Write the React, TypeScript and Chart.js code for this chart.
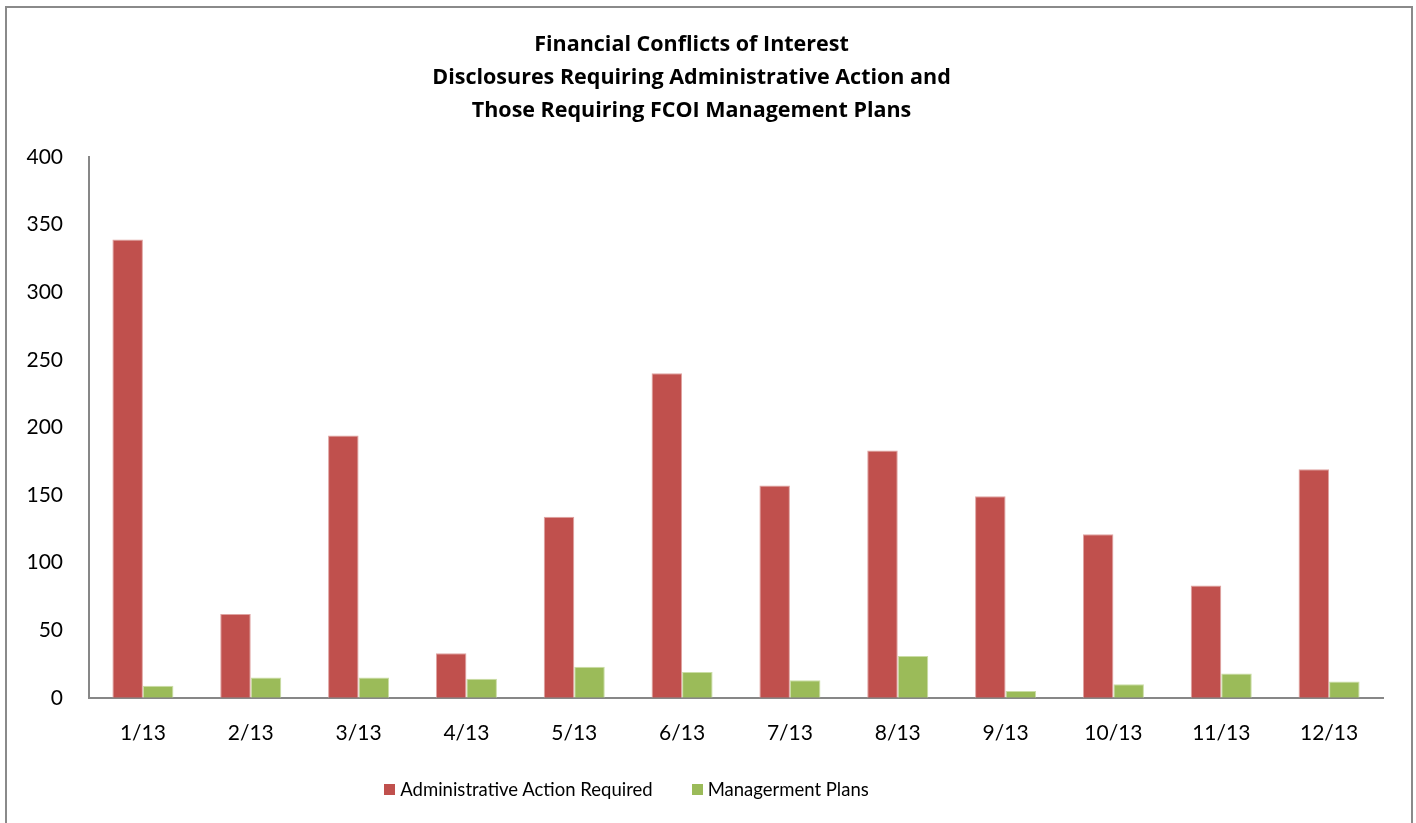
import React, { useEffect, useRef } from "react";
import { Chart, registerables } from "chart.js";

Chart.register(...registerables);

const categories = ["1/13", "2/13", "3/13", "4/13", "5/13", "6/13", "7/13", "8/13", "9/13", "10/13", "11/13", "12/13"];
const adminAction = [339, 62, 194, 33, 134, 240, 157, 183, 149, 121, 83, 169];
const mgmtPlans = [9, 15, 15, 14, 23, 19, 13, 31, 5, 10, 18, 12];
const seriesNames = ["Administrative Action Required", "Managerment Plans"];
const seriesColors = ["#C0504D", "#9BBB59"];
const seriesEdges = ["#DFA3A1", "#CADDA5"];
const titleLines = [
  "Financial Conflicts of Interest",
  "Disclosures Requiring Administrative Action and",
  "Those Requiring FCOI Management Plans",
];
const yMin = 0;
const yMax = 400;
const yStep = 50;

const FONT = "Lato, 'Open Sans', sans-serif";
const TITLE_FONT = "'Open Sans', Lato, sans-serif";
const W = 1416;
const H = 823;

export default function App() {
  const canvasRef = useRef<HTMLCanvasElement | null>(null);

  useEffect(() => {
    const canvas = canvasRef.current;
    if (!canvas) return;
    const chart = new Chart(canvas, {
      type: "bar",
      data: {
        labels: categories,
        datasets: [
          {
            label: seriesNames[0],
            data: adminAction,
            backgroundColor: seriesColors[0],
            borderColor: seriesEdges[0],
            borderWidth: 1,
            categoryPercentage: 0.566,
            barPercentage: 1.0,
          },
          {
            label: seriesNames[1],
            data: mgmtPlans,
            backgroundColor: seriesColors[1],
            borderColor: seriesEdges[1],
            borderWidth: 1,
            categoryPercentage: 0.566,
            barPercentage: 1.0,
          },
        ],
      },
      options: {
        responsive: false,
        animation: false,
        layout: { padding: { left: 0, right: 33, top: 0, bottom: 54 } },
        plugins: {
          legend: { display: false },
          tooltip: { enabled: false },
          title: {
            display: true,
            text: titleLines,
            color: "#000",
            font: { family: TITLE_FONT, size: 21.5, weight: "bold", lineHeight: 33 / 21.5 },
            padding: { top: 28.5, bottom: 29.5 },
          },
        },
        scales: {
          x: {
            grid: { display: false, drawTicks: false },
            border: { display: true, color: "#878787", width: 2 },
            ticks: {
              color: "#000",
              font: { family: FONT, size: 21 },
              padding: 23,
              maxRotation: 0,
              autoSkip: false,
            },
          },
          y: {
            min: yMin,
            max: yMax,
            grid: { display: false, drawTicks: false },
            border: { display: true, color: "#878787", width: 2 },
            ticks: {
              stepSize: yStep,
              color: "#000",
              font: { family: FONT, size: 21 },
              padding: 26,
            },
            afterFit: (scale: any) => {
              scale.width = 89;
            },
          },
        },
      },
    });
    return () => chart.destroy();
  }, []);

  return (
    <div style={{ position: "absolute", left: 0, top: 0, width: W, height: H, overflow: "hidden", background: "#fff" }}>
      <div
        style={{
          position: "absolute",
          left: 5,
          top: 6,
          width: 1404,
          height: 900,
          border: "2px solid #8a8a8a",
        }}
      />
      <canvas ref={canvasRef} width={W} height={H} style={{ position: "absolute", left: 0, top: 0, width: W, height: H }} />
      <div
        style={{
          position: "absolute",
          left: 0,
          top: 778,
          width: 1253,
          height: 22,
          display: "flex",
          justifyContent: "center",
          alignItems: "center",
          fontFamily: FONT,
          fontSize: 18.5,
          lineHeight: "22px",
          color: "#000",
        }}
      >
        {seriesNames.map((name, i) => (
          <div key={name} style={{ display: "flex", alignItems: "center", marginLeft: i === 0 ? 0 : 39 }}>
            <span style={{ display: "inline-block", width: 11, height: 11, background: seriesColors[i], marginRight: 5 }} />
            <span>{name}</span>
          </div>
        ))}
      </div>
    </div>
  );
}
